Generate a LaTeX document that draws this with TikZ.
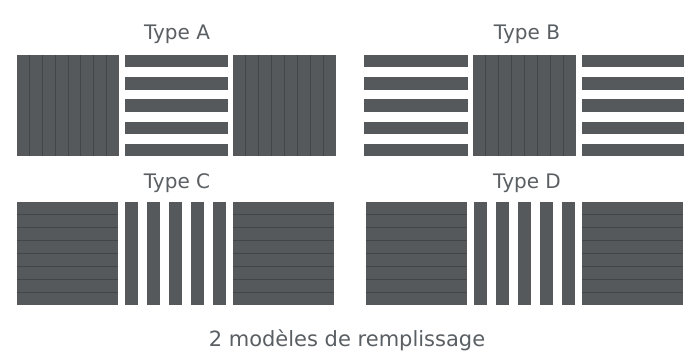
\documentclass[tikz,border=0pt]{standalone}
\usepackage{fontspec}
\setmainfont{DejaVu Sans}
\definecolor{panelgray}{HTML}{55595C}
\definecolor{seamgray}{HTML}{434648}
\definecolor{labelgray}{HTML}{5A5F63}
\begin{document}
\begin{tikzpicture}[x=1pt,y=-1pt,
  panel/.style={fill=panelgray},
  seam/.style={draw=seamgray,line width=0.9pt},
  typelabel/.style={anchor=base,text=labelgray,font=\fontsize{20}{24}\selectfont,inner sep=0pt},
  caption/.style={anchor=base,text=labelgray,font=\fontsize{21}{25}\selectfont,inner sep=0pt}]
\useasboundingbox[fill=white] (0,0) rectangle (691,361);
% ---------- Type A ----------
\node[typelabel] (tA) at (177,40) {Type A};
\foreach \xa/\xb in {17/119,233/336}{
  \fill[panel] (\xa,55) rectangle (\xb,156);
  \foreach \i in {1,...,7}
    \draw[seam] ({\xa+\i*(\xb-\xa)/8},55) -- ({\xa+\i*(\xb-\xa)/8},156);
}
\foreach \k in {0,...,4}
  \fill[panel] (125,{55+\k*22.2}) rectangle (228,{67.5+\k*22.2});
% ---------- Type B ----------
\node[typelabel] (tB) at (527,40) {Type B};
\fill[panel] (473,55) rectangle (576,156);
\foreach \i in {1,...,7}
  \draw[seam] ({473+\i*103/8},55) -- ({473+\i*103/8},156);
\foreach \xa/\xb in {364/468,582/684}
  \foreach \k in {0,...,4}
    \fill[panel] (\xa,{55+\k*22.2}) rectangle (\xb,{67.5+\k*22.2});
% ---------- Type C ----------
\node[typelabel] (tC) at (177,188) {Type C};
\foreach \xa/\xb in {17/118,233/334}{
  \fill[panel] (\xa,202) rectangle (\xb,305);
  \foreach \i in {1,...,7}
    \draw[seam] (\xa,{202+\i*103/8}) -- (\xb,{202+\i*103/8});
}
\foreach \k in {0,...,4}
  \fill[panel] ({125+\k*22},202) rectangle ({137.5+\k*22},305);
% ---------- Type D ----------
\node[typelabel] (tD) at (527,188) {Type D};
\foreach \xa/\xb in {366/467,582/683}{
  \fill[panel] (\xa,202) rectangle (\xb,305);
  \foreach \i in {1,...,7}
    \draw[seam] (\xa,{202+\i*103/8}) -- (\xb,{202+\i*103/8});
}
\foreach \k in {0,...,4}
  \fill[panel] ({474+\k*22},202) rectangle ({486.5+\k*22},305);
% ---------- caption ----------
\node[caption] (cap) at (347,346.5) {2 modèles de remplissage};
\end{tikzpicture}
\end{document}
